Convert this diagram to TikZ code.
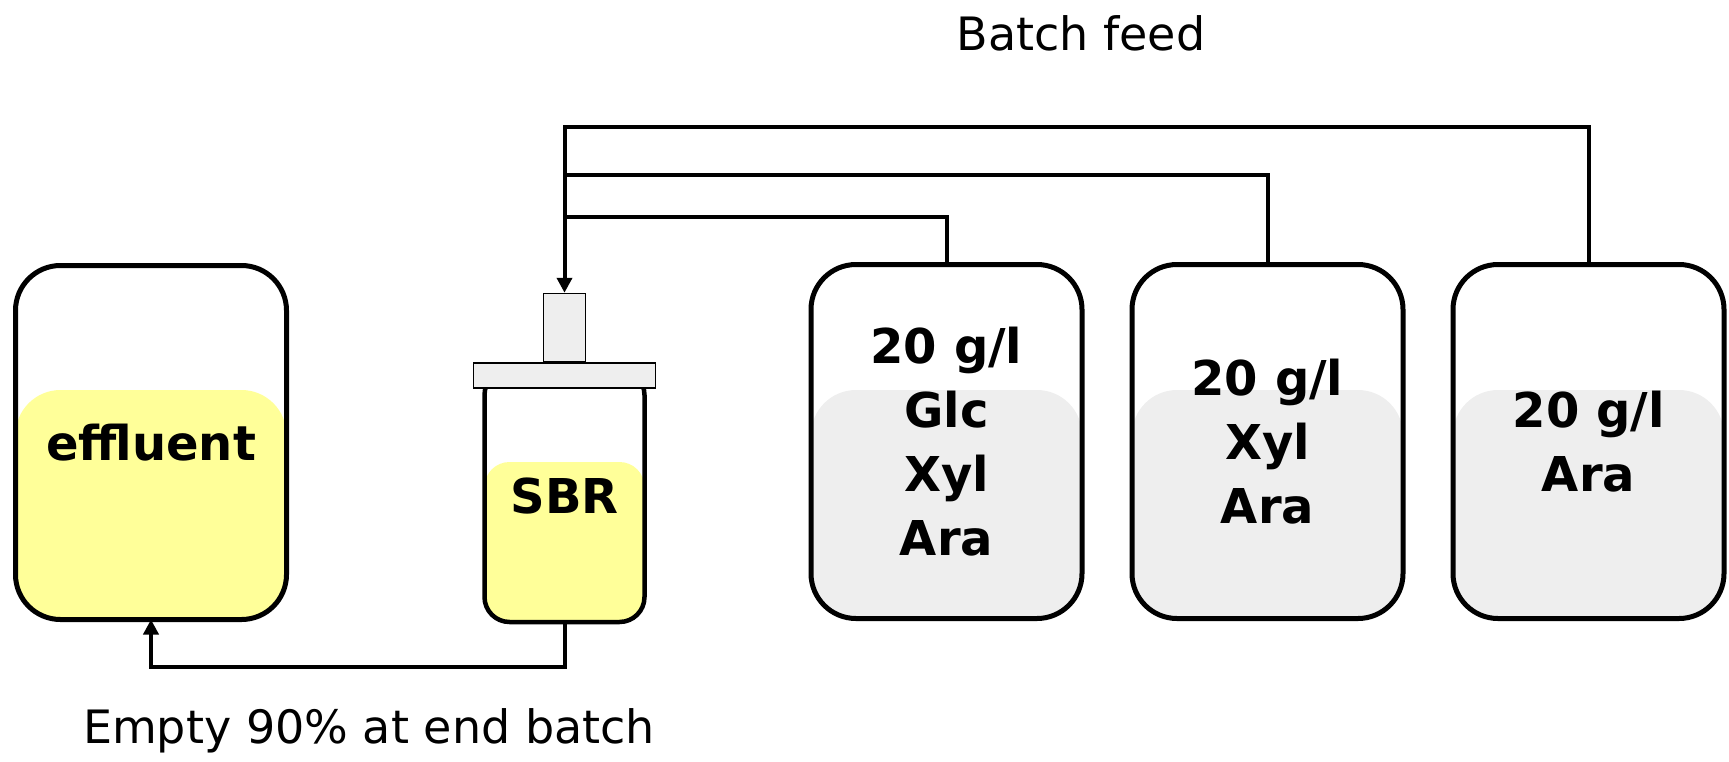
\documentclass[tikz,border=0pt]{standalone}
\usepackage{fontspec}
\setmainfont{DejaVu Sans}
\usetikzlibrary{arrows.meta, positioning, backgrounds}
\definecolor{liquidyellow}{RGB}{255, 255, 153}
\definecolor{feedgray}{RGB}{238, 238, 238}

\begin{document}
\begin{tikzpicture}[
    x=1pt, y=-1pt,
    tank/.style={rectangle, draw=black, line width=5pt, outer sep=0pt, rounded corners=45pt, minimum width=271pt, minimum height=354pt, align=center, font=\fontsize{48}{64}\selectfont\bfseries},
    jar/.style={rectangle, draw=black, line width=4.5pt, outer sep=0pt, rounded corners=25pt, minimum width=160pt, minimum height=252pt, font=\fontsize{48}{64}\selectfont\bfseries},
    lid/.style={rectangle, draw=black, fill=feedgray, line width=1.5pt, inner sep=0pt},
    pipe/.style={line width=4pt},
    flowarrow/.style={-{Triangle[length=15pt, width=15pt]}},
    note/.style={font=\fontsize{46}{52}\selectfont}
]
    \useasboundingbox (0,0) rectangle (1729,761);

    % Nodes
    \node[tank] (eff) at (151,442.5) {effluent};
    \node[jar] (sbr) at (564.5,496) {SBR};
    \node[lid, minimum width=182pt, minimum height=25pt] (flange) at (564.5,375.5) {};
    \node[lid, minimum width=42pt, minimum height=68pt, above=0pt of flange] (neck) {};
    \node[tank] (t1) at (946.5,441.5) {20 g/l\\Glc\\Xyl\\Ara};
    \node[tank, right=50pt of t1] (t2) {20 g/l\\Xyl\\Ara};
    \node[tank, right=50pt of t2] (t3) {20 g/l\\Ara};

    \node[note] (feedlabel) at (1081,33) {Batch feed};
    \node[note] (emptylabel) at (369,731) {Empty 90\% at end batch};

    % Liquid levels
    \coordinate (level) at (0,390);
    \coordinate (sbrlevel) at (0,462);
    \begin{scope}[on background layer]
        \fill[liquidyellow, rounded corners=45pt] (eff.west |- level) rectangle (eff.south east);
        \fill[liquidyellow, rounded corners=25pt] (sbr.west |- sbrlevel) rectangle (sbr.south east);
        \fill[feedgray, rounded corners=45pt] (t1.west |- level) rectangle (t1.south east);
        \fill[feedgray, rounded corners=45pt] (t2.west |- level) rectangle (t2.south east);
        \fill[feedgray, rounded corners=45pt] (t3.west |- level) rectangle (t3.south east);
    \end{scope}

    % Paths
    \coordinate (bus1) at (564.5,217);
    \coordinate (bus2) at (564.5,175);
    \coordinate (bus3) at (564.5,127);
    \draw[pipe] (t1.north) |- (bus1);
    \draw[pipe] (t2.north) |- (bus2);
    \draw[pipe, flowarrow] (t3.north) |- (bus3) -- (neck.north);
    \draw[pipe, flowarrow] (sbr.south) -- ++(0,45) -| (eff.south);
\end{tikzpicture}
\end{document}
